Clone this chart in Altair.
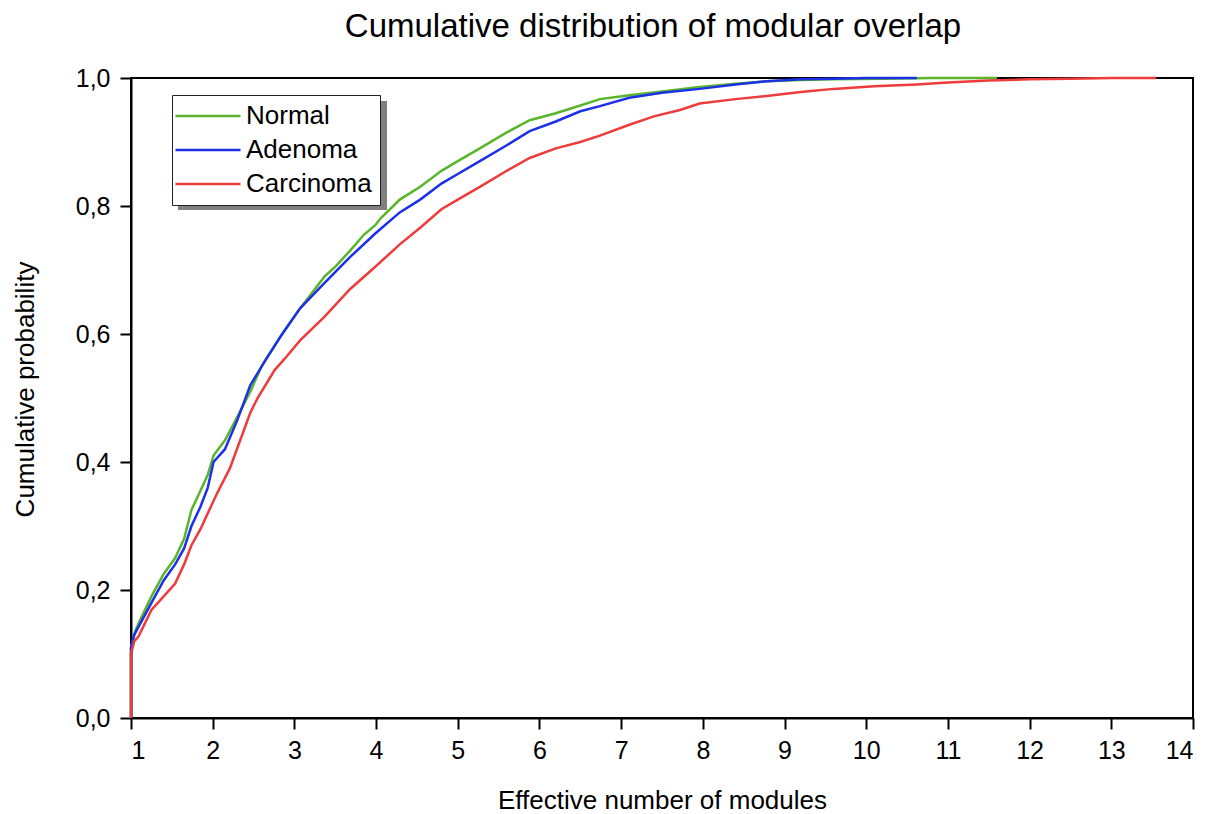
import altair as alt
import pandas as pd

# Empirical cumulative distributions of the effective number of modules
normal_x = [1.0, 1.0, 1.05, 1.1, 1.25, 1.4, 1.54, 1.65, 1.74, 1.85, 1.94, 2.01, 2.15, 2.3,
            2.46, 2.6, 2.8, 3.07, 3.37, 3.5, 3.68, 3.85, 3.99, 4.05, 4.29, 4.54, 4.8, 5.0,
            5.27, 5.6, 5.88, 6.2, 6.5, 6.74, 7.1, 7.5, 7.96, 8.4, 8.78, 9.2, 9.6, 10.2,
            10.8, 11.6]
normal_y = [0.0, 0.11, 0.135, 0.15, 0.19, 0.225, 0.25, 0.28, 0.325, 0.355, 0.38, 0.41, 0.434,
            0.47, 0.51, 0.55, 0.59, 0.64, 0.69, 0.705, 0.73, 0.755, 0.77, 0.78, 0.81, 0.83,
            0.855, 0.87, 0.89, 0.915, 0.934, 0.945, 0.957, 0.967, 0.973, 0.979, 0.986, 0.991,
            0.995, 0.997, 0.998, 0.999, 1.0, 1.0]

adenoma_x = [1.0, 1.0, 1.04, 1.09, 1.25, 1.4, 1.54, 1.65, 1.74, 1.85, 1.94, 2.01, 2.15, 2.3,
             2.46, 2.65, 2.85, 3.07, 3.37, 3.68, 3.99, 4.29, 4.54, 4.8, 5.0, 5.27, 5.6, 5.88,
             6.2, 6.5, 6.74, 7.1, 7.5, 7.96, 8.4, 8.78, 9.2, 9.6, 10.0, 10.62]
adenoma_y = [0.0, 0.11, 0.13, 0.142, 0.18, 0.215, 0.24, 0.265, 0.30, 0.33, 0.36, 0.40, 0.42,
             0.465, 0.52, 0.56, 0.60, 0.64, 0.68, 0.72, 0.757, 0.79, 0.81, 0.835, 0.85, 0.87,
             0.895, 0.917, 0.932, 0.948, 0.956, 0.969, 0.977, 0.983, 0.99, 0.995, 0.998,
             0.999, 1.0, 1.0]

carcinoma_x = [1.0, 1.0, 1.04, 1.09, 1.25, 1.4, 1.54, 1.65, 1.74, 1.85, 1.94, 2.05, 2.21,
               2.46, 2.55, 2.76, 2.9, 3.07, 3.37, 3.68, 3.99, 4.29, 4.54, 4.8, 5.0, 5.27, 5.6,
               5.88, 6.2, 6.5, 6.74, 7.1, 7.4, 7.72, 7.96, 8.4, 8.78, 9.2, 9.6, 10.1, 10.62,
               11.0, 11.5, 12.0, 12.5, 13.0, 13.55]
carcinoma_y = [0.0, 0.10, 0.12, 0.127, 0.169, 0.19, 0.21, 0.24, 0.27, 0.295, 0.32, 0.35, 0.39,
               0.477, 0.50, 0.544, 0.564, 0.59, 0.627, 0.67, 0.705, 0.74, 0.766, 0.795, 0.81,
               0.83, 0.855, 0.875, 0.89, 0.90, 0.91, 0.927, 0.94, 0.95, 0.96, 0.967, 0.972,
               0.978, 0.983, 0.987, 0.99, 0.993, 0.996, 0.998, 0.999, 1.0, 1.0]

groups = ["Normal", "Adenoma", "Carcinoma"]
colors = ["#5AB52C", "#1C30E8", "#EE3B3B"]
x_ticks = list(range(1, 15))
y_ticks = [0.0, 0.2, 0.4, 0.6, 0.8, 1.0]

rows = []
for name, xs, ys in [("Normal", normal_x, normal_y),
                     ("Adenoma", adenoma_x, adenoma_y),
                     ("Carcinoma", carcinoma_x, carcinoma_y)]:
    for i, (xv, yv) in enumerate(zip(xs, ys)):
        rows.append({"group": name, "i": i, "x": xv, "y": yv})
df = pd.DataFrame(rows)

FONT = "Liberation Sans"

# drop shadow behind the legend box
shadow = alt.Chart(pd.DataFrame({"k": [0]})).mark_rect(color="#808080").encode(
    x=alt.value(47), x2=alt.value(256), y=alt.value(23), y2=alt.value(132)
)

lines = alt.Chart(df).mark_line(strokeWidth=2.5, interpolate="linear").encode(
    x=alt.X("x:Q",
            scale=alt.Scale(domain=[1, 14], nice=False, zero=False),
            axis=alt.Axis(title="Effective number of modules", values=x_ticks,
                          labelFontSize=25, titleFontSize=26, labelFont=FONT, titleFont=FONT,
                          titleFontWeight="normal", tickSize=11, labelPadding=9,
                          titleBaseline="alphabetic", titleY=90, grid=False)),
    y=alt.Y("y:Q",
            scale=alt.Scale(domain=[0, 1], nice=False),
            axis=alt.Axis(title="Cumulative probability", values=y_ticks,
                          labelExpr="replace(format(datum.value, '.1f'), '.', ',')",
                          labelFontSize=25, titleFontSize=26, labelFont=FONT, titleFont=FONT,
                          titleFontWeight="normal", tickSize=11, labelPadding=10,
                          titleBaseline="alphabetic", titleX=-98, titleY=311, grid=False)),
    color=alt.Color("group:N",
                    scale=alt.Scale(domain=groups, range=colors),
                    sort=groups,
                    legend=alt.Legend(orient="none", legendX=41, legendY=17, title=None,
                                      symbolType="M-3.25,0H3.25", symbolSize=400,
                                      symbolStrokeWidth=2.5, symbolOffset=15,
                                      labelFontSize=26, labelFont=FONT, labelOffset=25,
                                      padding=8, rowPadding=8,
                                      strokeColor="#222222", fillColor="white")),
    order=alt.Order("i:Q"),
)

chart = alt.layer(shadow, lines).properties(
    width=1062,
    height=640,
    background="white",
    autosize=alt.AutoSizeParams(type="none"),
    padding={"left": 131, "top": 78, "right": 31, "bottom": 96},
    title=alt.TitleParams("Cumulative distribution of modular overlap", fontSize=33,
                          font=FONT, fontWeight="normal", anchor="middle", offset=22,
                          dx=-9, color="black"),
).configure_view(
    stroke="black", strokeWidth=2
).configure_axis(
    domainColor="black", domainWidth=2, tickColor="black", tickWidth=2,
    labelColor="black", titleColor="black"
)

chart.save("out.html", embed_options={"renderer": "svg", "actions": False})
